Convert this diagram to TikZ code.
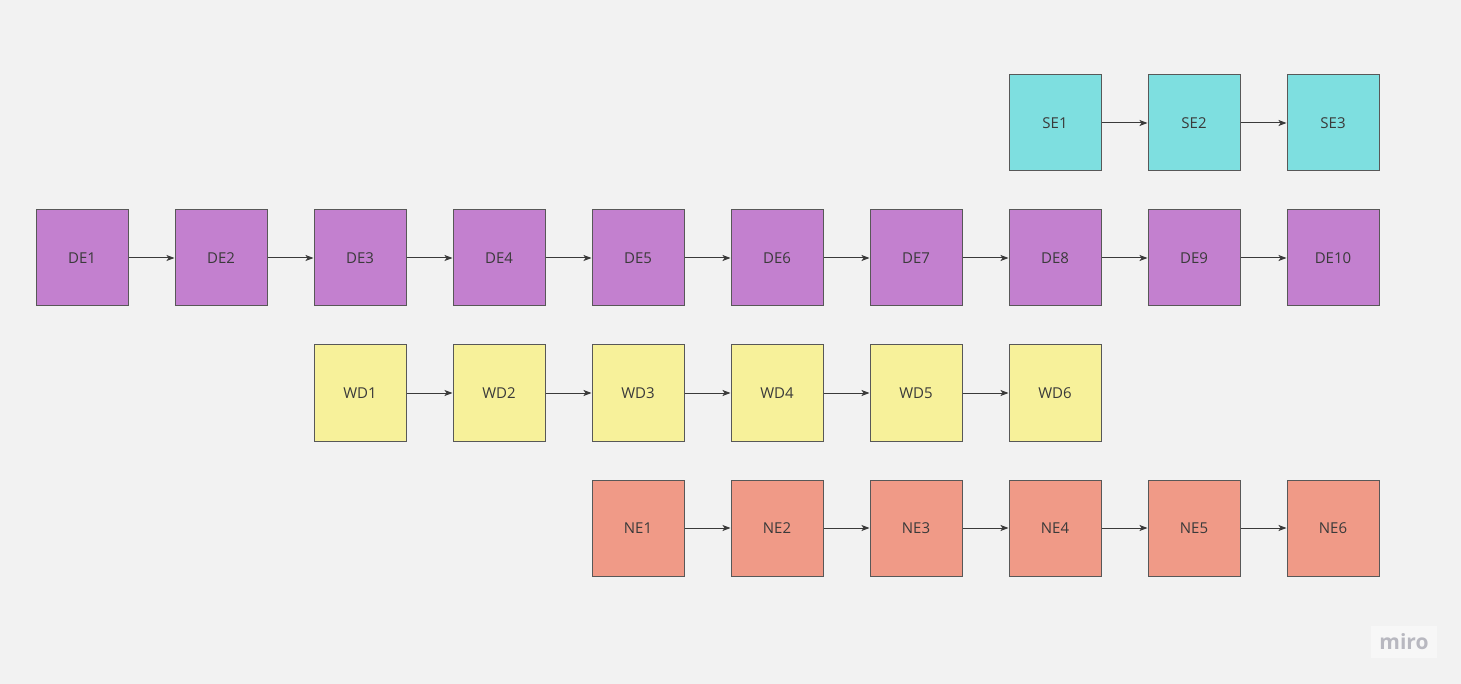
\documentclass[tikz,border=0pt]{standalone}
\usepackage{fontspec}
\setmainfont{Open Sans}
\usetikzlibrary{arrows.meta}
\definecolor{bg}{HTML}{F2F2F2}
\definecolor{cpur}{HTML}{C380CF}
\definecolor{ccyan}{HTML}{7EDFE0}
\definecolor{cyel}{HTML}{F7F19A}
\definecolor{csal}{HTML}{F09A87}
\definecolor{cline}{HTML}{3A3A3A}
\definecolor{ctext}{HTML}{3A3A3A}
\definecolor{clogo}{HTML}{B8B8C0}
\begin{document}
\begin{tikzpicture}[x=1pt,y=-1pt,
  box/.style={draw=cline!85, line width=1pt, minimum width=92pt, minimum height=96pt, inner sep=0pt, text height=11pt, text depth=0pt, font=\fontsize{15}{17}\selectfont, text=ctext},
  pur/.style={box, fill=cpur},
  cya/.style={box, fill=ccyan},
  yel/.style={box, fill=cyel},
  sal/.style={box, fill=csal},
  conn/.style={draw=cline, line width=1pt, -{Stealth[length=8pt,width=6pt,inset=2pt]}}]
\fill[bg] (0,0) rectangle (1461,684);
\useasboundingbox (0,0) rectangle (1461,684);
% SE row
\foreach \i/\x in {1/1055,2/1194,3/1333} \node[cya] (SE\i) at (\x,123) {SE\i};
% DE row
\foreach \i/\x in {1/82,2/221,3/360,4/499,5/638,6/777,7/916,8/1055,9/1194,10/1333} \node[pur] (DE\i) at (\x,258) {DE\i};
% WD row
\foreach \i/\x in {1/360,2/499,3/638,4/777,5/916,6/1055} \node[yel] (WD\i) at (\x,393) {WD\i};
% NE row
\foreach \i/\x in {1/638,2/777,3/916,4/1055,5/1194,6/1333} \node[sal] (NE\i) at (\x,528) {NE\i};
% connectors
\foreach \a/\b in {1/2,2/3} \draw[conn] (SE\a) -- (SE\b);
\foreach \a/\b in {1/2,2/3,3/4,4/5,5/6,6/7,7/8,8/9,9/10} \draw[conn] (DE\a) -- (DE\b);
\foreach \a/\b in {1/2,2/3,3/4,4/5,5/6} \draw[conn] (WD\a) -- (WD\b);
\foreach \a/\b in {1/2,2/3,3/4,4/5,5/6} \draw[conn] (NE\a) -- (NE\b);
% logo
\node[fill=white!40!bg, minimum width=66pt, minimum height=32pt, inner sep=0pt, text=clogo, font=\fontsize{21}{22}\selectfont\bfseries] (logo) at (1404,642) {miro};
\end{tikzpicture}
\end{document}
